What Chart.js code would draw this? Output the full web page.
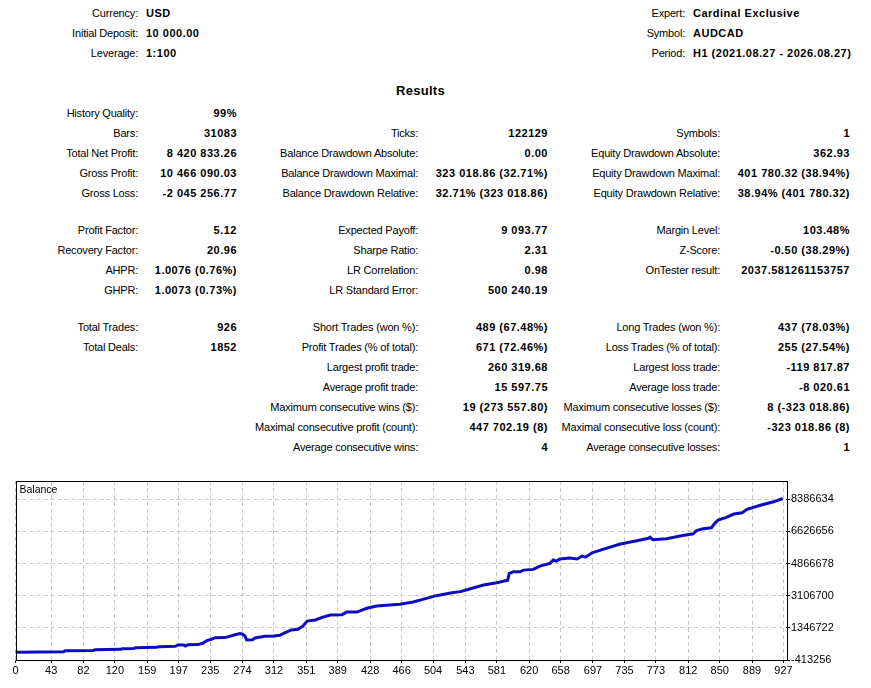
<!DOCTYPE html>
<html>
<head>
<meta charset="utf-8">
<script src="https://cdn.jsdelivr.net/npm/chart.js@4.4.1/dist/chart.umd.min.js"></script>
<style>
  html, body { margin: 0; padding: 0; background: #fff; }
  body { width: 871px; height: 688px; position: relative; overflow: hidden;
         font-family: "Liberation Sans", Arial, sans-serif; font-size: 11px; color: #000; }
  .t { position: absolute; line-height: 14px; white-space: nowrap; letter-spacing: -0.2px; }
  .b { font-weight: bold; letter-spacing: 0.5px; }
  #title { position: absolute; left: 0; width: 841px; top: 83px; text-align: center;
           font-weight: bold; font-size: 13px; line-height: 16px; letter-spacing: 0.3px; }
  #box { position: absolute; left: 0; top: 470px; width: 871px; height: 218px; }
</style>
</head>
<body>
<div id="title">Results</div>
<div id="box"><canvas id="balanceChart"></canvas></div>
<script>
// balance curve: trade number -> balance
const tradeIdx = [0, 58, 60, 94, 96, 127, 129, 143, 145, 170, 173, 193, 196, 203, 205, 208, 220, 226, 231, 236,
    241, 253, 258, 265, 271, 274, 277, 279, 286, 289, 301, 312, 319, 323, 333, 341, 347, 352, 362, 370,
    380, 394, 400, 412, 424, 436, 448, 464, 480, 496, 508, 525, 537, 549, 565, 581, 594, 596, 601, 609,
    613, 625, 633, 645, 649, 653, 657, 669, 678, 684, 688, 696, 710, 730, 750, 764, 766, 769, 786, 802,
    818, 822, 830, 840, 844, 848, 858, 867, 877, 883, 899, 915, 926];
const balance = [10000, 40000, 96000, 110000, 151000, 170000, 206000, 220000, 260000, 280000, 315000, 340000, 408000, 410000, 353000, 425000, 430000, 500000, 644000, 720000,
    808000, 815000, 880000, 972000, 1030000, 1000000, 900000, 682000, 690000, 791000, 885000, 900000, 940000, 1030000, 1230000, 1270000, 1450000, 1720000, 1780000, 1920000,
    2050000, 2070000, 2210000, 2210000, 2420000, 2540000, 2580000, 2640000, 2760000, 2960000, 3110000, 3260000, 3330000, 3490000, 3690000, 3820000, 3950000, 4330000, 4420000, 4420000,
    4510000, 4550000, 4730000, 4880000, 5060000, 5000000, 5120000, 5170000, 5120000, 5280000, 5220000, 5460000, 5660000, 5940000, 6120000, 6250000, 6310000, 6170000, 6230000, 6380000,
    6500000, 6670000, 6780000, 6830000, 7070000, 7250000, 7400000, 7580000, 7650000, 7840000, 8060000, 8250000, 8430833];

const xTicks = [0, 43, 82, 120, 159, 197, 235, 274, 312, 351, 389, 428, 466, 504, 543, 581, 620, 658, 697, 735, 773, 812, 850, 889, 927];
const yTicks = [-413256, 1346722, 3106700, 4866678, 6626656, 8386634];

// report text: [y, labelRightEdge, label, value]
const header = [
    [13, 138, 'Currency:', 'USD'],
    [33, 138, 'Initial Deposit:', '10 000.00'],
    [53, 138, 'Leverage:', '1:100'],
    [13, 685, 'Expert:', 'Cardinal Exclusive'],
    [33, 685, 'Symbol:', 'AUDCAD'],
    [53, 685, 'Period:', 'H1 (2021.08.27 - 2026.08.27)']
];
// [y, column, label, value]
const rows = [
    [113, 0, 'History Quality:', '99%'],
    [133, 0, 'Bars:', '31083'], [133, 1, 'Ticks:', '122129'], [133, 2, 'Symbols:', '1'],
    [153, 0, 'Total Net Profit:', '8 420 833.26'], [153, 1, 'Balance Drawdown Absolute:', '0.00'], [153, 2, 'Equity Drawdown Absolute:', '362.93'],
    [173, 0, 'Gross Profit:', '10 466 090.03'], [173, 1, 'Balance Drawdown Maximal:', '323 018.86 (32.71%)'], [173, 2, 'Equity Drawdown Maximal:', '401 780.32 (38.94%)'],
    [193, 0, 'Gross Loss:', '-2 045 256.77'], [193, 1, 'Balance Drawdown Relative:', '32.71% (323 018.86)'], [193, 2, 'Equity Drawdown Relative:', '38.94% (401 780.32)'],
    [230, 0, 'Profit Factor:', '5.12'], [230, 1, 'Expected Payoff:', '9 093.77'], [230, 2, 'Margin Level:', '103.48%'],
    [250, 0, 'Recovery Factor:', '20.96'], [250, 1, 'Sharpe Ratio:', '2.31'], [250, 2, 'Z-Score:', '-0.50 (38.29%)'],
    [270, 0, 'AHPR:', '1.0076 (0.76%)'], [270, 1, 'LR Correlation:', '0.98'], [270, 2, 'OnTester result:', '2037.581261153757'],
    [290, 0, 'GHPR:', '1.0073 (0.73%)'], [290, 1, 'LR Standard Error:', '500 240.19'],
    [327, 0, 'Total Trades:', '926'], [327, 1, 'Short Trades (won %):', '489 (67.48%)'], [327, 2, 'Long Trades (won %):', '437 (78.03%)'],
    [347, 0, 'Total Deals:', '1852'], [347, 1, 'Profit Trades (% of total):', '671 (72.46%)'], [347, 2, 'Loss Trades (% of total):', '255 (27.54%)'],
    [367, 1, 'Largest profit trade:', '260 319.68'], [367, 2, 'Largest loss trade:', '-119 817.87'],
    [387, 1, 'Average profit trade:', '15 597.75'], [387, 2, 'Average loss trade:', '-8 020.61'],
    [407, 1, 'Maximum consecutive wins ($):', '19 (273 557.80)'], [407, 2, 'Maximum consecutive losses ($):', '8 (-323 018.86)'],
    [427, 1, 'Maximal consecutive profit (count):', '447 702.19 (8)'], [427, 2, 'Maximal consecutive loss (count):', '-323 018.86 (8)'],
    [447, 1, 'Average consecutive wins:', '4'], [447, 2, 'Average consecutive losses:', '1']
];
const labelRight = [138, 418, 720];
const valueRight = [237, 548, 850];

function put(text, y, css, bold) {
    const d = document.createElement('div');
    d.className = 't' + (bold ? ' b' : '');
    d.textContent = text;
    d.style.top = (y - 7) + 'px';
    Object.assign(d.style, css);
    document.body.appendChild(d);
}
header.forEach(([y, x, label, value]) => {
    put(label, y, { right: (871 - x) + 'px' }, false);
    put(value, y, { left: (x + 8) + 'px' }, true);
});
rows.forEach(([y, c, label, value]) => {
    put(label, y, { right: (871 - labelRight[c]) + 'px' }, false);
    put(value, y, { right: (871 - valueRight[c]) + 'px' }, true);
});

const frame = {
    id: 'frame',
    afterDraw(chart) {
        const { ctx, chartArea: a } = chart;
        ctx.save();
        ctx.strokeStyle = '#000';
        ctx.lineWidth = 1;
        ctx.strokeRect(Math.round(a.left) + 0.5, Math.round(a.top) + 0.5,
            Math.round(a.right - a.left), Math.round(a.bottom - a.top));
        ctx.fillStyle = '#000';
        ctx.font = '10.5px "Liberation Sans", Arial, sans-serif';
        ctx.textBaseline = 'middle';
        ctx.fillText('Balance', a.left + 4, a.top + 9);
        ctx.restore();
    }
};

const balanceChart = new Chart(document.getElementById('balanceChart'), {
    type: 'line',
    data: {
        datasets: [{
            label: 'Balance',
            data: tradeIdx.map((t, i) => ({ x: t, y: balance[i] })),
            borderColor: '#0c0cc0',
            borderWidth: 3,
            pointRadius: 0,
            tension: 0,
            fill: false
        }]
    },
    plugins: [frame],
    options: {
        responsive: true,
        maintainAspectRatio: false,
        animation: false,
        layout: { padding: { left: 15.5, top: 11, right: 0, bottom: 0 } },
        plugins: { legend: { display: false }, tooltip: { enabled: false } },
        scales: {
            x: {
                type: 'linear',
                min: 0,
                max: 930,
                afterBuildTicks: s => { s.ticks = xTicks.map(v => ({ value: v })); },
                afterFit: s => { s.height = 28; },
                grid: { color: '#c8c8c8', tickLength: 3, tickColor: '#000' },
                border: { display: false, dash: [4, 3] },
                ticks: {
                    autoSkip: false, maxRotation: 0, padding: 1, color: '#000',
                    font: { size: 11, family: '"Liberation Sans", Arial, sans-serif' }
                }
            },
            y: {
                position: 'right',
                min: -413256,
                max: 9390000,
                afterBuildTicks: s => { s.ticks = yTicks.map(v => ({ value: v })); },
                afterFit: s => { s.width = 85; },
                grid: { color: '#c8c8c8', tickLength: 4, tickColor: '#000' },
                border: { display: false, dash: [4, 3] },
                ticks: {
                    autoSkip: false, padding: 1, color: '#000',
                    font: { size: 11, family: '"Liberation Sans", Arial, sans-serif' },
                    callback: v => String(v)
                }
            }
        }
    }
});
</script>
</body>
</html>
